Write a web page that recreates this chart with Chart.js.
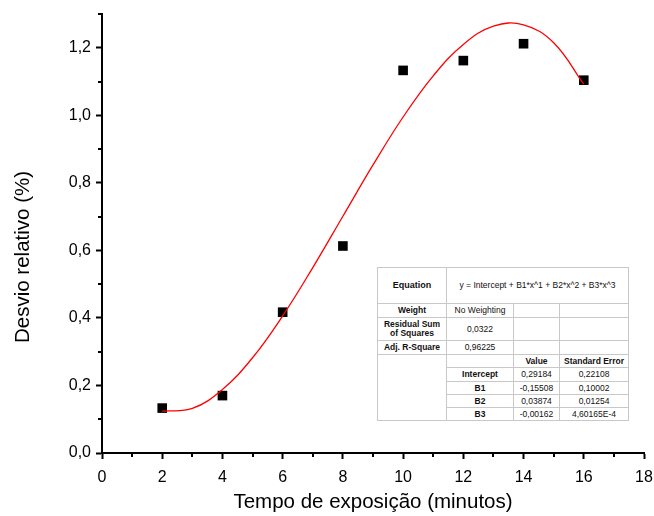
<!DOCTYPE html>
<html>
<head>
<meta charset="utf-8">
<script src="https://cdn.jsdelivr.net/npm/chart.js@4.4.1/dist/chart.umd.min.js"></script>
<style>
body { margin: 0; background: #fff; }
#caixa { position: relative; width: 654px; height: 516px; }
#tabela {
    position: absolute; left: 377px; top: 267px; width: 251px;
    border-collapse: collapse; table-layout: fixed;
    font-family: "Liberation Sans", Arial, sans-serif; font-size: 8.5px; color: #111;
    border: 1.5px solid #222; background: #fff;
}
#tabela td { border: 1px solid #c8c8c8; text-align: center; padding: 0; line-height: 9px; }
#tabela .b { font-weight: bold; }
</style>
</head>
<body>
<div id="caixa">
<canvas id="grafico" width="654" height="516"></canvas>
<table id="tabela">
    <colgroup><col style="width:69px"><col style="width:67px"><col style="width:46px"><col style="width:69px"></colgroup>
    <tr style="height:36px"><td class="b" style="font-size:9px">Equation</td><td colspan="3" style="font-size:8.5px">y = Intercept + B1*x^1 + B2*x^2 + B3*x^3</td></tr>
    <tr style="height:14px"><td class="b">Weight</td><td>No Weighting</td><td></td><td></td></tr>
    <tr style="height:23px"><td class="b">Residual Sum<br>of Squares</td><td>0,0322</td><td></td><td></td></tr>
    <tr style="height:14px"><td class="b">Adj. R-Square</td><td>0,96225</td><td></td><td></td></tr>
    <tr style="height:13px"><td rowspan="5"></td><td></td><td class="b">Value</td><td class="b">Standard Error</td></tr>
    <tr style="height:14px"><td class="b">Intercept</td><td>0,29184</td><td>0,22108</td></tr>
    <tr style="height:13px"><td class="b">B1</td><td>-0,15508</td><td>0,10002</td></tr>
    <tr style="height:13px"><td class="b">B2</td><td>0,03874</td><td>0,01254</td></tr>
    <tr style="height:13px"><td class="b">B3</td><td>-0,00162</td><td>4,60165E-4</td></tr>
</table>
</div>
<script>
// pontos medidos
const tempos = [2, 4, 6, 8, 10, 12, 14, 16];
const desvios = [0.133, 0.170, 0.417, 0.613, 1.133, 1.162, 1.212, 1.104];

// curva de ajuste
const ajusteX = [2, 3, 4, 5, 6, 7, 8, 9, 10, 11, 12, 13, 14, 15, 16];
const ajusteY = [0.124, 0.132, 0.188, 0.282, 0.406, 0.549, 0.701, 0.853, 0.995, 1.117, 1.210, 1.264, 1.268, 1.215, 1.092];

// marcas dos eixos
const ticksX = [0, 2, 4, 6, 8, 10, 12, 14, 16, 18];
const ticksY = [0, 0.2, 0.4, 0.6, 0.8, 1.0, 1.2];
const menoresX = [1, 3, 5, 7, 9, 11, 13, 15, 17];
const menoresY = [0.1, 0.3, 0.5, 0.7, 0.9, 1.1, 1.3];

var fonte = "'Liberation Sans', Arial, sans-serif";
var tituloY = 'Desvio relativo (%)';

var tracosMenores = {
    id: 'tracosMenores',
    afterDraw: function(chart) {
        var ctx = chart.ctx;
        var sx = chart.scales.x, sy = chart.scales.y;
        ctx.save();
        ctx.strokeStyle = '#000';
        ctx.lineWidth = 2;
        ctx.beginPath();
        for (var i = 0; i < menoresX.length; i++) {
            var px = Math.round(sx.getPixelForValue(menoresX[i]));
            ctx.moveTo(px, sy.bottom);
            ctx.lineTo(px, sy.bottom + 4);
        }
        for (var j = 0; j < menoresY.length; j++) {
            var py = Math.round(sy.getPixelForValue(menoresY[j]));
            ctx.moveTo(sx.left, py);
            ctx.lineTo(sx.left - 4, py);
        }
        ctx.stroke();

        // titulo do eixo y, um pouco abaixo do centro como no original
        ctx.translate(23, 257);
        ctx.rotate(-Math.PI / 2);
        ctx.fillStyle = '#000';
        ctx.font = '20.5px ' + fonte;
        ctx.textAlign = 'center';
        ctx.textBaseline = 'middle';
        ctx.fillText(tituloY, 0, 0);
        ctx.restore();
    }
};

var pontos = tempos.map(function(t, i) { return { x: t, y: desvios[i] }; });
var curva = ajusteX.map(function(t, i) { return { x: t, y: ajusteY[i] }; });

new Chart(document.getElementById('grafico'), {
    type: 'scatter',
    data: {
        datasets: [{
            type: 'line',
            data: curva,
            borderColor: '#ff0000',
            borderWidth: 1.3,
            pointRadius: 0,
            tension: 0.4,
            fill: false,
            order: 0
        }, {
            data: pontos,
            pointStyle: 'rect',
            pointRadius: 6.8,
            backgroundColor: '#000',
            borderColor: '#000',
            borderWidth: 0,
            order: 1
        }]
    },
    options: {
        responsive: false,
        animation: false,
        layout: { padding: { top: 14, right: 10, left: 0, bottom: 0 } },
        plugins: { legend: { display: false }, tooltip: { enabled: false } },
        scales: {
            x: {
                type: 'linear',
                min: 0, max: 18,
                afterBuildTicks: function(scale) {
                    scale.ticks = ticksX.map(function(v) { return { value: v }; });
                },
                afterFit: function(scale) {
                    scale.height = 63;
                    scale.paddingLeft = 0;
                    scale.paddingRight = 0;
                },
                grid: { drawOnChartArea: false, drawTicks: true, tickLength: 6, tickWidth: 2, tickColor: '#000' },
                border: { color: '#000', width: 2 },
                ticks: {
                    color: '#000', padding: 9, maxRotation: 0,
                    font: { family: fonte, size: 16 },
                    callback: function(v) { return String(v); }
                },
                title: {
                    display: true, text: 'Tempo de exposição (minutos)', color: '#000',
                    font: { family: fonte, size: 20.5 }, padding: { top: 0, bottom: 1 }
                }
            },
            y: {
                type: 'linear',
                min: 0, max: 1.3,
                afterBuildTicks: function(scale) {
                    scale.ticks = ticksY.map(function(v) { return { value: v }; });
                },
                afterFit: function(scale) {
                    scale.width = 102;
                    scale.paddingTop = 0;
                    scale.paddingBottom = 0;
                },
                grid: { drawOnChartArea: false, drawTicks: true, tickLength: 6, tickWidth: 2, tickColor: '#000' },
                border: { color: '#000', width: 2 },
                ticks: {
                    color: '#000', padding: 5,
                    font: { family: fonte, size: 16 },
                    callback: function(v) { return v.toFixed(1).replace('.', ','); }
                }
            }
        }
    },
    plugins: [tracosMenores]
});
</script>
</body>
</html>
